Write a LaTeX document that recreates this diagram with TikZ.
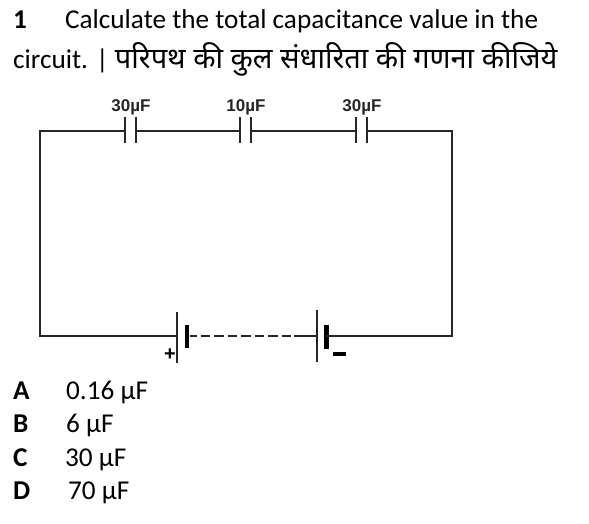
\documentclass[tikz,border=0pt]{standalone}
\usepackage{fontspec}
\setmainfont{Carlito}
\newfontfamily\hindifont[Script=Devanagari]{Noto Sans}
\newfontfamily\capfont{Liberation Sans}
\usetikzlibrary{positioning}

\begin{document}
\begin{tikzpicture} [x=1pt, y=-1pt,
  wire/.style={draw=black!85, line width=1.3pt},
  plate/.style={draw=black!85, line width=1.3pt},
  cell/.style={draw=black, line width=4pt},
  txt/.style={anchor=base west, inner sep=0pt, font=\fontsize{27.2}{30}\selectfont},
  caplabel/.style={anchor=base, inner sep=0pt, text=black!85, font=\capfont\bfseries\fontsize{17}{18}\selectfont}]
\useasboundingbox (0,0) rectangle (589,524);
\fill[white] (0,0) rectangle (589,524);
% question
\node[txt] (num) at (13,28.5) {\textbf{1}};
\node[txt] (line1) at (65,28.5) {Calculate the total capacitance value in the};
\node[txt] (line2) at (13,68.5) {circuit. | {\hindifont\fontsize{29}{30}\selectfont परिपथ की कुल संधारिता की गणना कीजिये}};
% corners
\coordinate (tl) at (40,131); \coordinate (tr) at (452,131);
\coordinate (bl) at (40,336); \coordinate (br) at (452,336);
% capacitors
\foreach \name/\xa/\val in {capa/125/30, capb/240/10, capc/356/30} {
  \coordinate (\name l) at (\xa,131);
  \coordinate (\name r) at (\xa+11,131);
  \draw[plate] (\xa,117) -- (\xa,143);
  \draw[plate] (\xa+11,117) -- (\xa+11,143);
  \node[caplabel] (\name t) at (\xa+6,112) {\val µF};
}
% battery
\coordinate (batal) at (177,336); \coordinate (batar) at (187,336);
\coordinate (batbl) at (317,336); \coordinate (batbr) at (326,336);
\coordinate (dasha) at (190,336); \coordinate (dashb) at (294,336);
\draw[plate] (177,312) -- (177,363);
\draw[cell] (187,325) -- (187,348);
\draw[plate] (317,310) -- (317,362);
\draw[cell, line width=5pt] (326,325) -- (326,349);
\node[inner sep=0pt, font=\capfont\bfseries\fontsize{20}{20}\selectfont] (plus) at (170,354.5) {+};
\node[fill=black, inner sep=0pt, minimum width=13pt, minimum height=4pt] (minus) at (339,354) {};
% wires
\draw[wire] (capar) -- (capbl) (capbr) -- (capcl);
\draw[wire] (capal) -- (tl) -- (bl) -- (batal);
\draw[wire] (capcr) -- (tr) -- (br) -- (batbr);
\draw[wire] (dashb) -- (batbl);
\draw[wire, dash pattern=on 9.5pt off 4pt, dash phase=3pt] (dasha) -- (dashb);
% answers
\foreach \name/\yy/\xx/\opt/\val in {opta/399.5/66/A/0.16, optb/432.5/66/B/6, optc/466/65/C/30, optd/499/68/D/70} {
  \node[txt] (\name) at (13,\yy) {\textbf{\opt}};
  \node[txt] (\name v) at (\xx,\yy) {\val\ µF};
}
\end{tikzpicture}
\end{document}
